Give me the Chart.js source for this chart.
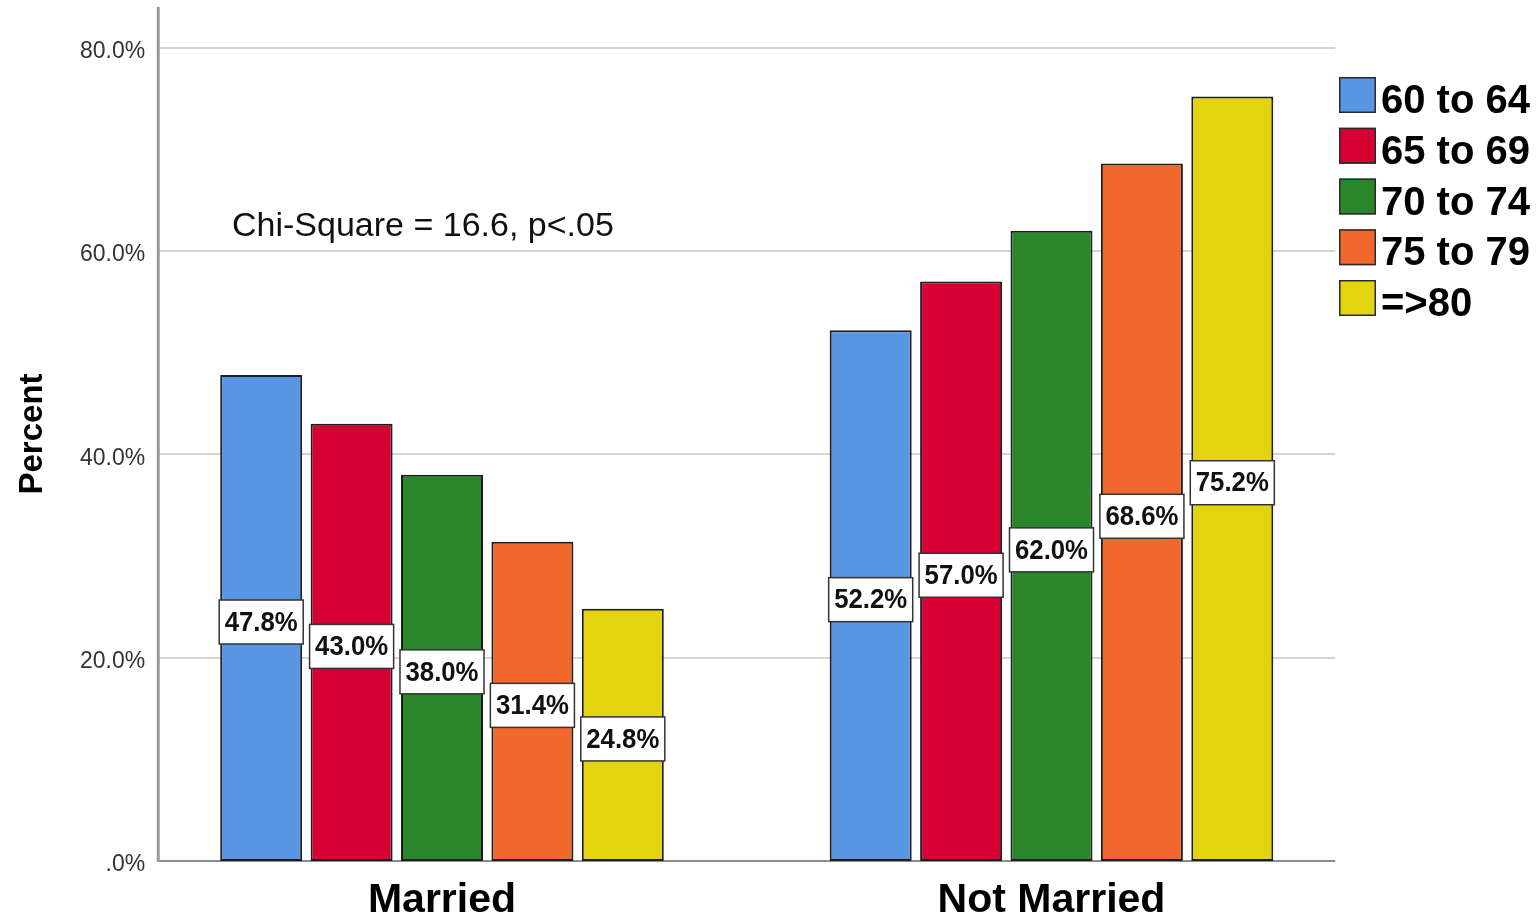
<!DOCTYPE html>
<html>
<head>
<meta charset="utf-8">
<script src="https://cdn.jsdelivr.net/npm/chart.js@4.4.1/dist/chart.umd.min.js"></script>
<style>
  html, body { margin: 0; padding: 0; background: #ffffff; }
  #wrap { width: 1540px; height: 917px; position: relative; }
  canvas { display: block; }
</style>
</head>
<body>
<div id="wrap"><canvas id="chart" width="1540" height="917" style="width:1540px;height:917px"></canvas></div>
<script>
// ---------- data ----------
const categories = ['Married', 'Not Married'];
const ageGroups = ['60 to 64', '65 to 69', '70 to 74', '75 to 79', '=>80'];
const pct60to64 = [47.8, 52.2];
const pct65to69 = [43.0, 57.0];
const pct70to74 = [38.0, 62.0];
const pct75to79 = [31.4, 68.6];
const pct80plus = [24.8, 75.2];
const yTickValues = [0, 20, 40, 60, 80];
const yAxisMax = 84;
const yAxisTitle = 'Percent';
const annotationText = 'Chi-Square = 16.6, p<.05';
const annotationValue = 61.5;

// ---------- styles ----------
const FONT = "'Liberation Sans', Arial, Helvetica, sans-serif";
const seriesColors = ['#5895e2', '#d60033', '#2a862a', '#f2682c', '#e2d50f'];
const seriesValues = [pct60to64, pct65to69, pct70to74, pct75to79, pct80plus];
const FRAME_INSET = 21;

function fmtTick(v) {
  return v === 0 ? '.0%' : v.toFixed(1) + '%';
}

// gridlines + axis lines + y tick labels, inset from the category area
const framePlugin = {
  id: 'frame',
  beforeDatasetsDraw(chart) {
    const { ctx, chartArea, scales: { y } } = chart;
    const L = chartArea.left + FRAME_INSET;
    const R = chartArea.right - FRAME_INSET;
    ctx.save();
    ctx.lineWidth = 2;
    ctx.strokeStyle = '#d4d4d4';
    yTickValues.forEach(v => {
      if (v === 0) return;
      const py = Math.round(y.getPixelForValue(v));
      ctx.beginPath(); ctx.moveTo(L, py); ctx.lineTo(R, py); ctx.stroke();
    });
    const p0 = Math.round(y.getPixelForValue(0));
    ctx.strokeStyle = '#8c8c8c';
    ctx.lineWidth = 2;
    ctx.beginPath(); ctx.moveTo(L, p0); ctx.lineTo(R, p0); ctx.stroke();
    ctx.strokeStyle = '#999999';
    ctx.lineWidth = 3;
    ctx.beginPath(); ctx.moveTo(L, chartArea.top); ctx.lineTo(L, p0 + 1); ctx.stroke();
    // tick labels
    ctx.font = '23px ' + FONT;
    ctx.fillStyle = '#333333';
    ctx.textAlign = 'right';
    ctx.textBaseline = 'middle';
    yTickValues.forEach(v => {
      ctx.fillText(fmtTick(v), L - 13, y.getPixelForValue(v) + 4);
    });
    ctx.restore();
  }
};

// boxed value labels at bar middles
const LABEL_SX = 0.92;
const valueLabelPlugin = {
  id: 'valueLabels',
  afterDatasetsDraw(chart) {
    const { ctx } = chart;
    ctx.save();
    chart.data.datasets.forEach((ds, di) => {
      const meta = chart.getDatasetMeta(di);
      meta.data.forEach((bar, i) => {
        const txt = ds.data[i].toFixed(1) + '%';
        const p = bar.getProps(['x', 'y', 'base'], true);
        const cx = p.x;
        const cy = (p.y + p.base) / 2 + 4;
        ctx.font = 'bold 28px ' + FONT;
        const tw = ctx.measureText(txt).width * LABEL_SX;
        const bw = tw + 11, bh = 44;
        ctx.fillStyle = '#ffffff';
        ctx.fillRect(cx - bw / 2, cy - bh / 2, bw, bh);
        ctx.strokeStyle = '#333333';
        ctx.lineWidth = 1.5;
        ctx.strokeRect(cx - bw / 2, cy - bh / 2, bw, bh);
        ctx.save();
        ctx.translate(cx, cy);
        ctx.scale(LABEL_SX, 1);
        ctx.textAlign = 'center';
        ctx.textBaseline = 'middle';
        ctx.fillStyle = '#111111';
        ctx.fillText(txt, 0, 1);
        ctx.restore();
      });
    });
    ctx.restore();
  }
};

// annotation + legend
const extrasPlugin = {
  id: 'extras',
  afterDraw(chart) {
    const { ctx, scales: { x, y } } = chart;
    ctx.save();
    // chi-square note
    ctx.font = '34px ' + FONT;
    ctx.fillStyle = '#111111';
    ctx.textAlign = 'left';
    ctx.textBaseline = 'alphabetic';
    ctx.fillText(annotationText, x.getPixelForValue(0) - 210, y.getPixelForValue(annotationValue));
    // legend
    const lx = 1339, ly = 77, pitch = 50.75, bw = 37, bh = 36;
    chart.data.datasets.forEach((ds, i) => {
      const top = ly + i * pitch;
      ctx.fillStyle = ds.backgroundColor;
      ctx.fillRect(lx, top, bw, bh);
      ctx.strokeStyle = '#2a2a2a';
      ctx.lineWidth = 1.5;
      ctx.strokeRect(lx + 0.75, top + 0.75, bw - 1.5, bh - 1.5);
      ctx.font = 'bold 40px ' + FONT;
      ctx.fillStyle = '#000000';
      ctx.fillText(ds.label, lx + bw + 5, top + bh);
    });
    ctx.restore();
  }
};

const datasets = ageGroups.map((name, i) => ({
  label: name,
  data: seriesValues[i],
  backgroundColor: seriesColors[i],
  borderColor: '#1e1e1e',
  borderWidth: 2,
  borderSkipped: false,
  categoryPercentage: 0.7416,
  barPercentage: 0.907
}));

new Chart(document.getElementById('chart'), {
  type: 'bar',
  data: { labels: categories, datasets },
  options: {
    responsive: false,
    animation: false,
    devicePixelRatio: 1,
    layout: { padding: { left: 0, top: 7, right: 183.75, bottom: 0 } },
    plugins: {
      legend: { display: false },
      tooltip: { enabled: false }
    },
    scales: {
      x: {
        type: 'category',
        offset: true,
        grid: { display: false, drawTicks: false },
        border: { display: false },
        ticks: {
          font: { family: FONT, size: 41, weight: 'bold' },
          color: '#000000',
          padding: 15,
          maxRotation: 0,
          autoSkip: false
        },
        afterFit(scale) {
          scale.height = 56;
          scale.paddingLeft = 0; scale.paddingRight = 0;
        }
      },
      y: {
        type: 'linear',
        min: 0,
        max: yAxisMax,
        grid: { display: false, drawTicks: false },
        border: { display: false },
        afterBuildTicks(scale) {
          scale.ticks = yTickValues.map(v => ({ value: v }));
        },
        ticks: { display: false },
        title: {
          display: true,
          text: yAxisTitle,
          font: { family: FONT, size: 33, weight: 'bold' },
          color: '#000000',
          padding: { top: 13, bottom: 0 }
        },
        afterFit(scale) {
          scale.width = 137.25;
          scale.paddingTop = 0; scale.paddingBottom = 0;
        }
      }
    }
  },
  plugins: [framePlugin, valueLabelPlugin, extrasPlugin]
});
</script>
</body>
</html>
